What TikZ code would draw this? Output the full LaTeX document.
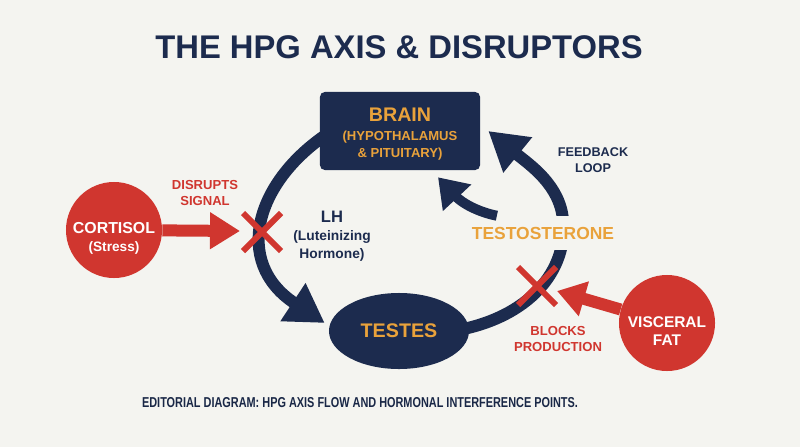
\documentclass[tikz,border=0pt]{standalone}
\usepackage{fontspec}
\setmainfont{Liberation Sans}
\usepackage{graphicx}
\usetikzlibrary{arrows.meta,shapes.geometric}
\definecolor{navy}{HTML}{1C2B4E}
\definecolor{gold}{HTML}{E9A23B}
\definecolor{alarm}{HTML}{D0362F}
\definecolor{paper}{HTML}{F4F4F0}
\pgfdeclarelayer{bg}
\pgfdeclarelayer{back}
\pgfsetlayers{bg,back,main}

\begin{document}
\begin{tikzpicture}[x=0.025cm, y=-0.025cm,
    organ/.style={fill=navy, text=gold, align=center},
    source/.style={circle, fill=alarm, text=white, minimum size=2.4cm, inner sep=0pt, text height=32.5pt, align=center},
    loopline/.style={draw=navy, line width=0.3cm, -{Triangle[length=0.95cm, width=1.075cm]}},
    hitline/.style={draw=alarm, line width=0.3cm, -{Triangle[length=0.75cm, width=0.875cm]}},
    cross/.style={draw=alarm, line width=0.15cm},
    redlabel/.style={text=alarm, align=center, font=\bfseries\fontsize{9.3}{11}\selectfont},
    navylabel/.style={text=navy, align=center}
]
    % Background
    \begin{pgfonlayer}{bg}
        \fill[paper] (0,0) rectangle (800,447);
    \end{pgfonlayer}

    % Title
    \node[text=navy, font=\bfseries\fontsize{23.3}{26}\selectfont] (title) at (399,47) {THE HPG AXIS \& DISRUPTORS};

    % Organs
    \node[organ, rounded corners=0.12cm, minimum width=4cm, minimum height=1.95cm, text height=39pt, font=\bfseries\fontsize{14}{11.5}\selectfont] (brain) at (400,131)
        {BRAIN\\[2pt]{\fontsize{9.3}{11.3}\selectfont (HYPOTHALAMUS}\\{\fontsize{9.3}{11.3}\selectfont \& PITUITARY)}};
    \node[organ, ellipse, minimum width=3.5cm, minimum height=1.9cm, font=\bfseries\fontsize{14}{16}\selectfont] (testes) at (399,331) {TESTES};

    % Hormone loop
    \begin{pgfonlayer}{back}
        \draw[loopline] ([xshift=0.3cm]brain.west) .. controls (255,180) and (232,262) .. ([shift={(-0.1cm,0.2cm)}]testes.west);
        \draw[loopline] ([xshift=-0.4cm]testes.east) .. controls (530,318) and (568,270) .. (563,220)
            .. controls (560,185) and (530,165) .. ([xshift=0.2cm]brain.east);
    \end{pgfonlayer}
    \node[fill=paper, text=gold, font=\bfseries\fontsize{12.4}{14}\selectfont, minimum height=0.85cm, inner xsep=2pt] (testo) at (543,233) {TESTOSTERONE};
    \draw[draw=navy, line width=0.25cm, -{Triangle[length=0.7cm, width=0.925cm]}] ([xshift=0.7cm]testo.north west) .. controls (478,212) and (462,203) .. ([xshift=0.95cm, yshift=-0.175cm]brain.south);

    % Loop labels
    \node[navylabel, font=\bfseries\fontsize{11.8}{13}\selectfont] (lh) at (332,236)
        {LH\\{\fontsize{9.8}{11}\selectfont (Luteinizing}\\{\fontsize{9.8}{11}\selectfont Hormone)}};
    \node[navylabel, font=\bfseries\fontsize{9}{11}\selectfont] (feedback) at (593,160) {FEEDBACK\\LOOP};

    % Disruptors
    \coordinate (lhx) at (262,232);
    \coordinate (tx) at (537,286);
    \coordinate (cortisoltip) at (240,231);
    \coordinate (visceraltip) at (557,291);
    \draw[cross] (lhx) ++(-19,-19) -- ++(38,38) (lhx) ++(-19,19) -- ++(38,-38);
    \draw[cross] (tx) ++(-19,-19) -- ++(38,38) (tx) ++(-19,19) -- ++(38,-38);

    \node[source, font=\bfseries\fontsize{11.3}{13}\selectfont] (cortisol) at (114,230) {CORTISOL\\{\fontsize{9.7}{11}\selectfont (Stress)}};
    \node[source, font=\bfseries\fontsize{11}{13}\selectfont] (visceral) at (667,323) {VISCERAL\\FAT};
    \draw[hitline] (cortisol) -- (cortisoltip);
    \draw[hitline, -{Triangle[length=0.7cm, width=0.86cm]}] (visceral) -- (visceraltip);

    \node[redlabel] (disrupts) at (205,193) {DISRUPTS\\SIGNAL};
    \node[redlabel] (blocks) at (558,339) {BLOCKS\\PRODUCTION};

    % Caption
    \node[text=navy!90!black, font=\bfseries\fontsize{10.2}{12}\selectfont] (caption) at (360,403) {\scalebox{0.76}[1]{EDITORIAL DIAGRAM: HPG AXIS FLOW AND HORMONAL INTERFERENCE POINTS.}};
\end{tikzpicture}
\end{document}
